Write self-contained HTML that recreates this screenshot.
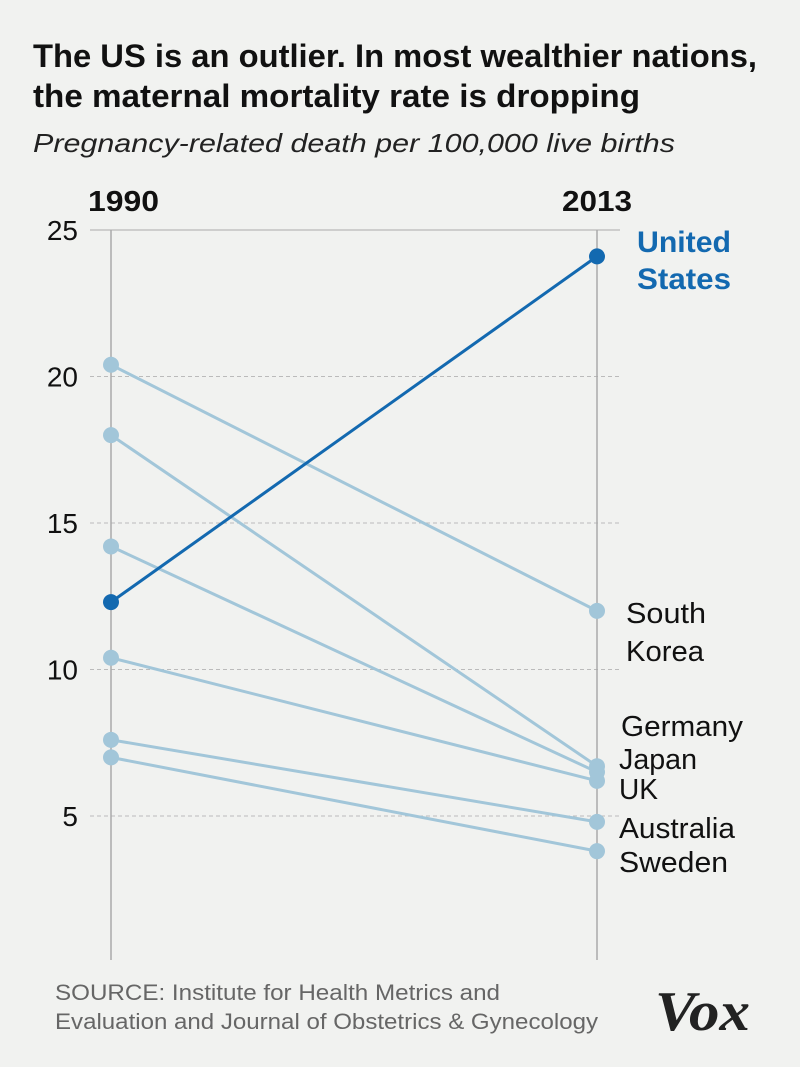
<!DOCTYPE html>
<html><head><meta charset="utf-8"><style>
html,body{margin:0;padding:0;background:#f1f2f0;}
svg{display:block;}
</style></head><body>
<svg width="800" height="1067" viewBox="0 0 800 1067" xmlns="http://www.w3.org/2000/svg">
<rect width="800" height="1067" fill="#f1f2f0"/>
<text x="33" y="67" font-family="'Liberation Sans Narrow','Liberation Sans',sans-serif" font-weight="bold" font-size="32" textLength="724" lengthAdjust="spacingAndGlyphs" fill="#111">The US is an outlier. In most wealthier nations,</text>
<text x="33" y="107" font-family="'Liberation Sans Narrow','Liberation Sans',sans-serif" font-weight="bold" font-size="32" textLength="607" lengthAdjust="spacingAndGlyphs" fill="#111">the maternal mortality rate is dropping</text>
<text x="33" y="152" font-family="'Liberation Sans',sans-serif" font-style="italic" font-size="26" textLength="642" lengthAdjust="spacingAndGlyphs" fill="#222">Pregnancy-related death per 100,000 live births</text>
<text x="88" y="211" font-family="'Liberation Sans Narrow','Liberation Sans',sans-serif" font-weight="bold" font-size="29" textLength="71" lengthAdjust="spacingAndGlyphs" fill="#111">1990</text>
<text x="562" y="211" font-family="'Liberation Sans Narrow','Liberation Sans',sans-serif" font-weight="bold" font-size="29" textLength="70" lengthAdjust="spacingAndGlyphs" fill="#111">2013</text>
<g id="grid"></g>
<g id="marks"></g>
<text x="55" y="1000" font-family="'Liberation Sans',sans-serif" font-size="22" textLength="445" lengthAdjust="spacingAndGlyphs" fill="#666">SOURCE: Institute for Health Metrics and</text>
<text x="55" y="1029" font-family="'Liberation Sans',sans-serif" font-size="22" textLength="543" lengthAdjust="spacingAndGlyphs" fill="#666">Evaluation and Journal of Obstetrics &amp; Gynecology</text>
<text x="655" y="1030" font-family="'Liberation Serif',serif" font-weight="bold" font-style="italic" font-size="56" textLength="95" lengthAdjust="spacingAndGlyphs" fill="#222">Vox</text>
</svg>
<script>
const countries = ["United States","South Korea","Germany","Japan","UK","Australia","Sweden"];
const values1990 = [12.3, 20.4, 18.0, 14.2, 10.4, 7.6, 7.0];
const values2013 = [24.1, 12.0, 6.7, 6.5, 6.2, 4.8, 3.8];
const yTicks = [25, 20, 15, 10, 5];
const yTickLabels = ["25","20","15","10","5"];

const NS = "http://www.w3.org/2000/svg";
const x1990 = 111, x2013 = 597;
function y(v){ return 230 + (25 - v) * 29.3; }
function mk(tag, attrs, parent){ const e=document.createElementNS(NS,tag); for(const k in attrs) e.setAttribute(k,attrs[k]); parent.appendChild(e); return e; }
const grid = document.getElementById('grid');
const marks = document.getElementById('marks');

yTicks.forEach((t,i)=>{
  const gy = y(t);
  const ln = mk('line',{x1:90,x2:620,y1:gy,y2:gy,stroke:i===0?'#aaa':'#bbb','stroke-width':1,'stroke-dasharray':i===0?'none':'4,3'},grid);
  
  
  const tx = mk('text',{x:78,y:gy+10,'text-anchor':'end','font-family':"'Liberation Sans',sans-serif",'font-size':28,fill:'#111'},grid);
  tx.textContent = yTickLabels[i];
  
  
});
[x1990,x2013].forEach((ax,i)=>{
  const l = mk('line',{x1:ax,x2:ax,y1:230,y2:960,stroke:'#aaa','stroke-width':1.5},grid);
  
  
});

const order = [1,2,3,4,5,6,0];
order.forEach(i=>{
  const us = i===0;
  const col = us ? '#1369b0' : '#a2c6d9';
  const g = mk('g',{},marks);
  
  
  mk('line',{x1:x1990,y1:y(values1990[i]),x2:x2013,y2:y(values2013[i]),stroke:col,'stroke-width':3},g);
  const c1 = mk('circle',{cx:x1990,cy:y(values1990[i]),r:8,fill:col},g);
  
  
  const c2 = mk('circle',{cx:x2013,cy:y(values2013[i]),r:8,fill:col},g);
  
  
});

const labels = [
  {t:"United", x:637, y:252, w:94, us:true},
  {t:"States", x:637, y:289, w:94, us:true},
  {t:"South", x:626, y:623, w:80},
  {t:"Korea", x:626, y:661, w:78},
  {t:"Germany", x:621, y:736, w:122},
  {t:"Japan", x:619, y:769, w:78},
  {t:"UK", x:619, y:799, w:39},
  {t:"Australia", x:619, y:838, w:116},
  {t:"Sweden", x:619, y:872, w:109}
];
labels.forEach(L=>{
  const tx = mk('text',{x:L.x,y:L.y,textLength:L.w,lengthAdjust:'spacingAndGlyphs','font-family':L.us?"'Liberation Sans Narrow','Liberation Sans',sans-serif":"'Liberation Sans',sans-serif",'font-size':L.us?30:29,'font-weight':L.us?'bold':'normal',fill:L.us?'#1369b0':'#111'},marks);
  tx.textContent = L.t;
  
  
});
</script>
</body></html>
